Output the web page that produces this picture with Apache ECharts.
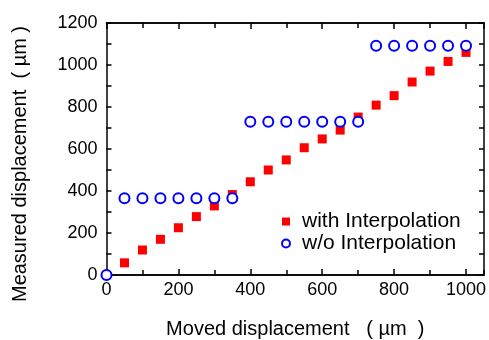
<!DOCTYPE html>
<html>
<head>
<meta charset="utf-8">
<script src="https://cdn.jsdelivr.net/npm/echarts@6/dist/echarts.min.js"></script>
<style>
  html, body { margin: 0; padding: 0; background: #fff; }
  #chart { width: 489px; height: 340px; }
</style>
</head>
<body>
<div id="chart"></div>
<script>
  // 数据
  var moved = [50, 100, 150, 200, 250, 300, 350, 400, 450, 500, 550, 600, 650, 700, 750, 800, 850, 900, 950, 1000]
  var withInterp = [58, 119, 170, 225, 278, 329, 383, 444, 500, 548, 606, 648, 690, 752, 809, 854, 919, 971, 1017, 1060]
  var movedNoInterp = [0, 50, 100, 150, 200, 250, 300, 350, 400, 450, 500, 550, 600, 650, 700, 750, 800, 850, 900, 950, 1000]
  var withoutInterp = [0, 365, 365, 365, 365, 365, 365, 365, 730, 730, 730, 730, 730, 730, 730, 1092, 1092, 1092, 1092, 1092, 1092]
  var seriesNames = ['with Interpolation', 'w/o Interpolation']

  var font = 'Liberation Sans, Arial, sans-serif'
  var black = '#000'

  function pairs (xs, ys) {
    return xs.map(function (x, i) { return [x, ys[i]] })
  }

  // 横轴：主刻度 200，次刻度 100，上下各一条
  function xAxisOf (position, interval, len, showLabel) {
    return {
      type: 'value', position: position, min: 0, max: 1050, interval: interval,
      axisLine: { show: true, onZero: false, lineStyle: { color: black, width: 1.5 } },
      axisTick: { show: true, inside: true, length: len, lineStyle: { color: black, width: 1.5 } },
      axisLabel: {
        show: showLabel, color: black, fontFamily: font, fontSize: 18, margin: 6,
        showMaxLabel: false, formatter: function (v) { return String(v) }
      },
      splitLine: { show: false }
    }
  }
  function yAxisOf (position, showLabel) {
    return {
      type: 'value', position: position, min: 0, max: 1200, interval: 200,
      axisLine: { show: true, onZero: false, lineStyle: { color: black, width: 1.5 } },
      axisTick: { show: true, inside: true, length: 5, lineStyle: { color: black, width: 1.5 } },
      minorTick: { show: true, splitNumber: 2, length: 5, lineStyle: { color: black, width: 1.5 } },
      axisLabel: {
        show: showLabel, color: black, fontFamily: font, fontSize: 18, margin: 9,
        formatter: function (v) { return String(v) }
      },
      splitLine: { show: false }
    }
  }

  var chart = echarts.init(document.getElementById('chart'))
  chart.setOption({
    animation: false,
    backgroundColor: '#fff',
    grid: { left: 106.5, top: 23, right: 5, bottom: 65, containLabel: false, outerBoundsMode: 'none' },
    xAxis: [
      Object.assign(xAxisOf('bottom', 200, 6, true), {
        name: 'Moved displacement   ( µm  )', nameLocation: 'middle', nameGap: 44,
        nameTextStyle: { color: black, fontFamily: font, fontSize: 20 }
      }),
      xAxisOf('bottom', 100, 5, false),
      xAxisOf('top', 200, 6, false),
      xAxisOf('top', 100, 5, false)
    ],
    yAxis: [yAxisOf('left', true), yAxisOf('right', false)],
    graphic: [{
      type: 'text', x: 20, y: 164, rotation: Math.PI / 2,
      style: {
        text: 'Measured displacement  ( µm )', fill: black, font: '20px ' + font,
        align: 'center', verticalAlign: 'middle'
      }
    }],
    legend: {
      orient: 'vertical', left: 276, top: 206, itemGap: 1,
      itemWidth: 8, itemHeight: 8,
      textStyle: { color: black, fontFamily: font, fontSize: 21, padding: [0, 0, 0, 7] },
      data: seriesNames
    },
    series: [
      {
        name: seriesNames[0], type: 'scatter', symbol: 'rect', symbolSize: 9,
        itemStyle: { color: '#ff0000', opacity: 1 },
        data: pairs(moved, withInterp)
      },
      {
        name: seriesNames[1], type: 'scatter', symbol: 'emptyCircle', symbolSize: 10,
        itemStyle: { color: '#0000ff', borderColor: '#0000ff', borderWidth: 2, opacity: 1 },
        data: pairs(movedNoInterp, withoutInterp)
      }
    ]
  })
</script>
</body>
</html>
